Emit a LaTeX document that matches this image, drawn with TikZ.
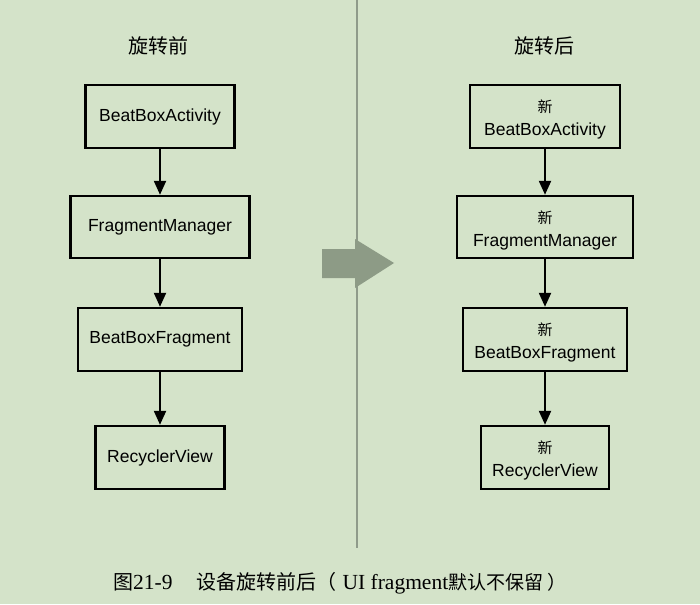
\documentclass[tikz,border=0pt]{standalone}
\usepackage{fontspec}
\setmainfont{Liberation Serif}
\newfontfamily\cjk{Noto Sans CJK SC}
\newfontfamily\hel{Liberation Sans}
\usetikzlibrary{arrows.meta}
\definecolor{bg}{RGB}{212,227,201}
\definecolor{bigarrow}{RGB}{141,155,134}
\definecolor{divider}{RGB}{143,155,138}
\tikzset{
  boxfont/.style={font=\hel\fontsize{17.5}{20}\selectfont},
  box/.style={draw=black, line width=2.4pt, inner sep=0pt, align=center, boxfont},
  newbox/.style={box, label={[boxfont, align=center, yshift=-3pt]center:#1}},
  conn/.style={line width=2.2pt, -{Triangle[length=14pt,width=12pt]}},
  title/.style={font=\cjk\fontsize{20}{24}\selectfont},
}
\newcommand{\xin}{{\cjk\fontsize{15}{18}\selectfont 新}}
\begin{document}
\begin{tikzpicture}[x=1pt,y=-1pt]
\fill[bg] (0,0) rectangle (700,604);
\useasboundingbox (0,0) rectangle (700,604);
% divider
\draw[divider, line width=2pt] (357,0) -- (357,548);
% big arrow
\fill[bigarrow] (322,249) -- (355,249) -- (355,239) -- (394,263) -- (355,288) -- (355,278) -- (322,278) -- cycle;
% titles
\node[title] (t1) at (158,46) {旋转前};
\node[title] (t2) at (544,46) {旋转后};
% left column
\node[box, minimum width=149pt, minimum height=63pt] (l1) at (160,116.5) {BeatBoxActivity};
\node[box, minimum width=179pt, minimum height=62pt] (l2) at (160,227) {FragmentManager};
\node[box, minimum width=164pt, minimum height=63pt] (l3) at (160,339.5) {BeatBoxFragment};
\node[box, minimum width=129pt, minimum height=63pt] (l4) at (160,457.5) {RecyclerView};
\draw[conn] (l1) -- (l2);
\draw[conn] (l2) -- (l3);
\draw[conn] (l3) -- (l4);
% right column
\node[newbox={\xin\\[3pt]BeatBoxActivity}, minimum width=150pt, minimum height=63pt] (r1) at (545,116.5) {};
\node[newbox={\xin\\[3pt]FragmentManager}, minimum width=176pt, minimum height=62pt] (r2) at (545,227) {};
\node[newbox={\xin\\[3pt]BeatBoxFragment}, minimum width=164pt, minimum height=63pt] (r3) at (545,339.5) {};
\node[newbox={\xin\\[3pt]RecyclerView}, minimum width=128pt, minimum height=63pt] (r4) at (545,457.5) {};
\draw[conn] (r1) -- (r2);
\draw[conn] (r2) -- (r3);
\draw[conn] (r3) -- (r4);
% caption
\node[font=\fontsize{21.5}{24}\selectfont, anchor=west, inner sep=0pt] (cap) at (113,583) {{\cjk\fontsize{20}{24}\selectfont 图}21-9\hspace{24pt}{\cjk\fontsize{20}{24}\selectfont 设备旋转前后（}\hspace{6pt}UI fragment{\cjk\fontsize{19}{24}\selectfont 默认不保留\hspace{4pt}）}};
\end{tikzpicture}
\end{document}
